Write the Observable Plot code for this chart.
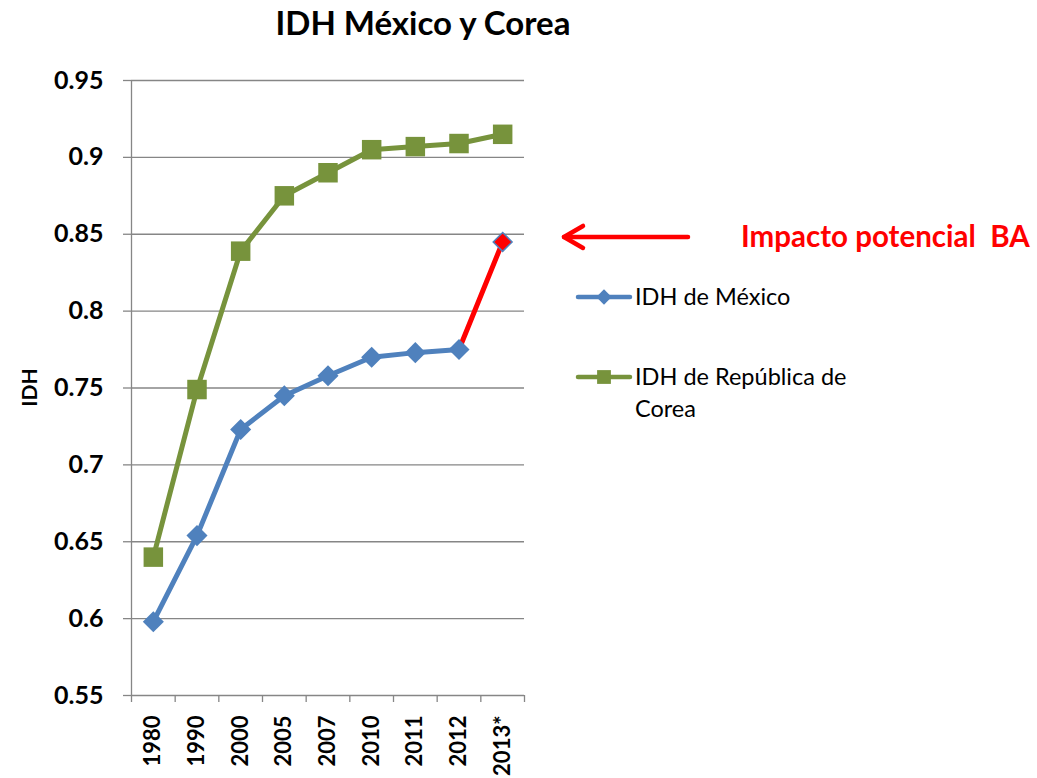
<!DOCTYPE html>
<html>
<head>
<meta charset="utf-8">
<script src="https://cdn.jsdelivr.net/npm/d3@7"></script>
<script src="https://cdn.jsdelivr.net/npm/@observablehq/plot@0.6"></script>
<style>
  body { margin: 0; background: #fff; }
  svg { font-family: Lato, "Open Sans", sans-serif; }
</style>
</head>
<body>
<div id="chart"></div>
<script>
const years = ["1980", "1990", "2000", "2005", "2007", "2010", "2011", "2012", "2013*"];
const mexico = [0.598, 0.654, 0.723, 0.745, 0.758, 0.770, 0.773, 0.775, 0.845];
const korea  = [0.640, 0.749, 0.839, 0.875, 0.890, 0.905, 0.907, 0.909, 0.915];
const yTicks = [0.55, 0.6, 0.65, 0.7, 0.75, 0.8, 0.85, 0.9, 0.95];
const seriesNames = ["IDH de México", "IDH de República de Corea"];
const title = "IDH México y Corea";
const yLabel = "IDH";
const annotation = "Impacto potencial  BA";

const blue = "#4F81BD", green = "#77933C", red = "#FF0000", grid = "#868686";

const idx = years.map((_, i) => i);
const mx = mexico.map((v, i) => ({i, v}));
const kr = korea.map((v, i) => ({i, v}));
const boundaries = d3.range(years.length + 1).map(i => i - 0.5);
const mxHist = mx.slice(0, mx.length - 1);
const mxProj = mx.slice(mx.length - 2);
const mxLast = mx.slice(mx.length - 1);

const svg = Plot.plot({
  width: 1037,
  height: 778,
  marginLeft: 131,
  marginRight: 513,
  marginTop: 80,
  marginBottom: 83,
  style: {fontFamily: "Lato, 'Open Sans', sans-serif", background: "#fff", color: "#000"},
  x: {type: "linear", domain: [-0.5, years.length - 0.5]},
  y: {domain: [0.55, 0.95]},
  marks: [
    Plot.gridY(yTicks, {stroke: grid, strokeOpacity: 1, strokeWidth: 1.3}),
    Plot.ruleX([-0.5], {stroke: grid, strokeWidth: 1.3}),
    Plot.axisY(yTicks, {tickSize: 8, tickPadding: 20, stroke: grid, strokeWidth: 1.3,
      tickFormat: d => String(d), fontSize: 25, fontWeight: "bold", label: null}),
    Plot.axisX(boundaries, {tickSize: 7, stroke: grid, strokeWidth: 1.3, tickFormat: () => "", label: null}),
    Plot.axisX(idx, {tickSize: 0, tickPadding: 20, tickRotate: -90,
      tickFormat: i => years[i], fontSize: 22, fontWeight: "bold", label: null}),
    Plot.line(kr, {x: "i", y: "v", stroke: green, strokeWidth: 5}),
    Plot.line(mxHist, {x: "i", y: "v", stroke: blue, strokeWidth: 5}),
    Plot.line(mxProj, {x: "i", y: "v", stroke: red, strokeWidth: 5}),
    Plot.dot(kr, {x: "i", y: "v", symbol: "square", r: 11, fill: green}),
    Plot.dot(mxHist, {x: "i", y: "v", symbol: "diamond2", r: 9.5, fill: blue}),
    Plot.dot(mxLast, {x: "i", y: "v", symbol: "diamond2", r: 8.5, fill: red, stroke: blue, strokeWidth: 1.5})
  ]
});

const sel = d3.select(svg);
const yS = svg.scale("y");

// Title
sel.append("text").attr("x", 423).attr("y", 35).attr("text-anchor", "middle")
  .attr("font-size", 33).attr("font-weight", "bold").attr("fill", "#000").text(title);

// Y label
sel.append("text").attr("transform", `translate(28,${(80 + 695) / 2}) rotate(-90)`)
  .attr("text-anchor", "middle").attr("dominant-baseline", "central")
  .attr("font-size", 21).attr("font-weight", "bold").attr("fill", "#000").text(yLabel);

// Annotation arrow and text
const ay = yS.apply(mexico[mexico.length - 1]) - 4.5;
const arr = sel.append("g").attr("stroke", red).attr("stroke-width", 4.5).attr("fill", "none")
  .attr("stroke-linecap", "round").attr("stroke-linejoin", "round");
arr.append("line").attr("x1", 688).attr("y1", ay).attr("x2", 564).attr("y2", ay);
arr.append("path").attr("d", `M${583},${ay - 11} L${564},${ay} L${583},${ay + 11}`);
sel.append("text").attr("x", 741).attr("y", ay + 10).attr("text-anchor", "start")
  .attr("font-size", 29.5).attr("font-weight", "bold")
  .attr("fill", red).style("white-space", "pre").text(annotation);

// Legend
const leg = sel.append("g").attr("text-anchor", "start");
const legItems = [
  {name: seriesNames[0], color: blue, sym: d3.symbolDiamond2, size: 150, y: 297},
  {name: seriesNames[1], color: green, sym: d3.symbolSquare, size: 190, y: 377}
];
legItems.forEach(it => {
  leg.append("line").attr("x1", 578).attr("x2", 630).attr("y1", it.y).attr("y2", it.y)
    .attr("stroke", it.color).attr("stroke-width", 4.5).attr("stroke-linecap", "round");
  leg.append("path").attr("d", d3.symbol(it.sym, it.size)()).attr("transform", `translate(604,${it.y})`)
    .attr("fill", it.color);
});
leg.append("text").attr("x", 635).attr("y", 305).attr("font-size", 23.5).attr("fill", "#000").text(seriesNames[0]);
const t2 = leg.append("text").attr("x", 635).attr("y", 385).attr("font-size", 23.5).attr("fill", "#000");
t2.append("tspan").attr("x", 635).attr("y", 385).text("IDH de República de");
t2.append("tspan").attr("x", 635).attr("y", 417).text("Corea");

document.getElementById("chart").appendChild(svg);
</script>
</body>
</html>
